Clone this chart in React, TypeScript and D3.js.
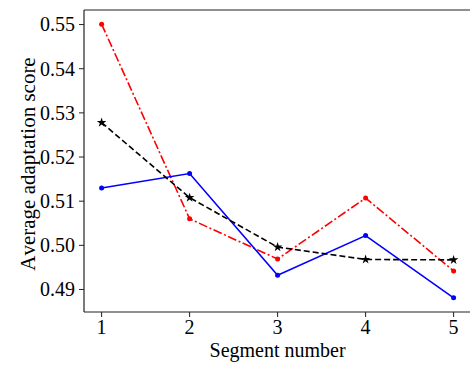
import React from "react";
import * as d3 from "d3";

const segments = [1, 2, 3, 4, 5];
const redValues = [0.5501, 0.5060, 0.4969, 0.5107, 0.4942];
const blueValues = [0.5130, 0.51625, 0.4932, 0.5022, 0.4881];
const blackValues = [0.5278, 0.5108, 0.4996, 0.4968, 0.4967];
const yTicks = [0.49, 0.5, 0.51, 0.52, 0.53, 0.54, 0.55];
const xLabel = "Segment number";
const yLabel = "Average adaptation score";

const W = 470;
const H = 365;
const left = 84;
const top = 10;
const bottom = 312;

const font = "Liberation Serif";
const textStyle: React.CSSProperties = { fontFamily: font, fontSize: "20px", fontKerning: "none" };

export default function App() {
  const x = d3.scaleLinear().domain([0.8, 5.2]).range([left, left + 4.4 * 88]);
  const y = d3.scaleLinear().domain([0.4849, 0.5533]).range([bottom, top]);
  const line = d3
    .line<number>()
    .x((_, i) => x(segments[i]))
    .y((d) => y(d));
  const star = d3.symbol().type(d3.symbolStar).size(28)();

  const series = [
    { vals: redValues, color: "#ff0000", dash: "9,2.5,2,2.5", marker: "circle" },
    { vals: blueValues, color: "#0000ff", dash: undefined, marker: "circle" },
    { vals: blackValues, color: "#000000", dash: "6,3", marker: "star" },
  ];

  return (
    <svg
      width={W}
      height={H}
      style={{ position: "absolute", left: 0, top: 0, background: "#fff" }}
    >
      {series.map((s, si) => (
        <g key={si}>
          <path
            d={line(s.vals) || ""}
            fill="none"
            stroke={s.color}
            strokeWidth={1.6}
            strokeDasharray={s.dash}
          />
          {s.vals.map((v, i) =>
            s.marker === "circle" ? (
              <circle key={i} cx={x(segments[i])} cy={y(v)} r={2.5} fill={s.color} />
            ) : (
              <path
                key={i}
                d={star || ""}
                transform={`translate(${x(segments[i])},${y(v)})`}
                fill={s.color}
              />
            )
          )}
        </g>
      ))}
      <line x1={left} x2={left} y1={top} y2={bottom} stroke="#222" strokeWidth={1.2} />
      <line x1={left} x2={W + 5} y1={bottom} y2={bottom} stroke="#222" strokeWidth={1.2} />
      <line x1={left} x2={W + 5} y1={top} y2={top} stroke="#222" strokeWidth={1.2} />
      {yTicks.map((t) => (
        <g key={t}>
          <line x1={left - 5} x2={left} y1={y(t)} y2={y(t)} stroke="#222" strokeWidth={1} />
          <text
            x={left - 9}
            y={y(t) + 6.8}
            textAnchor="end"
            style={textStyle}
            fill="#000"
          >
            {t.toFixed(2)}
          </text>
        </g>
      ))}
      {segments.map((t) => (
        <g key={t}>
          <line x1={x(t)} x2={x(t)} y1={bottom} y2={bottom + 5} stroke="#222" strokeWidth={1} />
          <text x={x(t)} y={334} textAnchor="middle" style={textStyle} fill="#000">
            {t}
          </text>
        </g>
      ))}
      <text x={x(3)} y={357} textAnchor="middle" style={textStyle} fill="#000">
        {xLabel}
      </text>
      <text
        transform={`translate(35,164) rotate(-90)`}
        textAnchor="middle"
        style={{ ...textStyle, fontSize: "21px" }}
        fill="#000"
      >
        {yLabel}
      </text>
    </svg>
  );
}
